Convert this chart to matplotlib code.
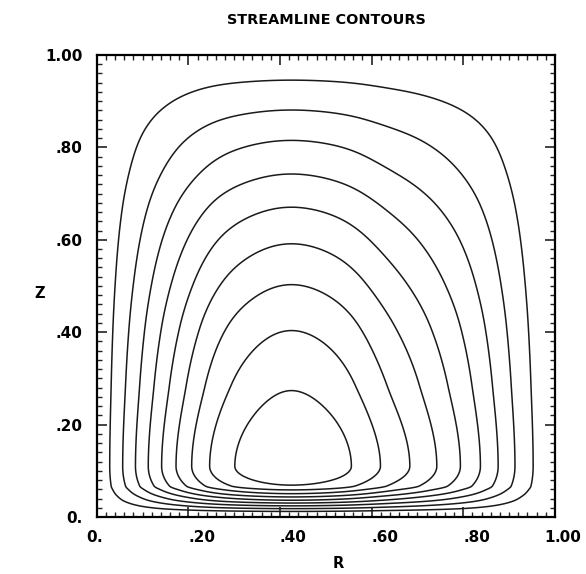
import numpy as np
import matplotlib
matplotlib.use("Agg")
import matplotlib.pyplot as plt
from matplotlib.ticker import MultipleLocator

#-----------datos---------------------------------------#
# niveles de las lineas de corriente (de la exterior a la interior)
levels = [0.1, 0.2, 0.3, 0.4, 0.5, 0.6, 0.7, 0.8, 0.9]
# altura maxima de cada contorno (Z)
z_top = [0.946, 0.882, 0.817, 0.745, 0.674, 0.596, 0.509, 0.412, 0.286]
# altura del fondo plano de cada contorno (Z)
z_bot = [0.012, 0.018, 0.024, 0.030, 0.036, 0.043, 0.050, 0.058, 0.067]
# borde izquierdo y derecho de cada contorno (R)
r_left = [0.0275, 0.058, 0.086, 0.110, 0.140, 0.171, 0.207, 0.240, 0.295]
r_right = [0.947, 0.911, 0.879, 0.838, 0.798, 0.742, 0.687, 0.614, 0.565]
# centro del vortice
r_center = 0.42
z_center = 0.11

xtick_vals = [0.0, 0.2, 0.4, 0.6, 0.8, 1.0]
xtick_labels = ['0.', '.20', '.40', '.60', '.80', '1.00']
ytick_vals = [0.0, 0.2, 0.4, 0.6, 0.8, 1.0]
ytick_labels = ['0.', '.20', '.40', '.60', '.80', '1.00']


#-----------Funciones-------------------#
def pchip(xk, yk, x):
    # interpolacion cubica monotona (Fritsch-Carlson)
    xk = np.asarray(xk, float)
    yk = np.asarray(yk, float)
    h = np.diff(xk)
    delta = np.diff(yk) / h
    d = np.zeros(len(xk))
    for k in range(1, len(xk) - 1):
        if delta[k - 1] * delta[k] > 0:
            w1 = 2 * h[k] + h[k - 1]
            w2 = h[k] + 2 * h[k - 1]
            d[k] = (w1 + w2) / (w1 / delta[k - 1] + w2 / delta[k])
    d[0] = delta[0]
    d[-1] = delta[-1]
    i = np.clip(np.searchsorted(xk, x) - 1, 0, len(xk) - 2)
    t = (x - xk[i]) / h[i]
    h00 = 2 * t**3 - 3 * t**2 + 1
    h10 = t**3 - 2 * t**2 + t
    h01 = -2 * t**3 + 3 * t**2
    h11 = t**3 - t**2
    return h00 * yk[i] + h10 * h[i] * d[i] + h01 * yk[i + 1] + h11 * h[i] * d[i + 1]


def suavizar(y, sigma):
    # suavizado gaussiano con reflexion impar en los bordes (y=0 en la pared)
    n = int(3 * sigma)
    k = np.exp(-0.5 * (np.arange(-n, n + 1) / sigma) ** 2)
    k /= k.sum()
    ypad = np.concatenate((-y[n:0:-1], y, -y[-2:-n - 2:-1]))
    return np.convolve(ypad, k, mode='valid')


#-----------campo de la funcion de corriente-------------#
r_knots = [0.0] + r_left + [r_center] + r_right[::-1] + [1.0]
f_knots = [0.0] + levels + [1.0] + levels[::-1] + [0.0]
z_knots = [0.0] + z_bot + [z_center] + z_top[::-1] + [1.0]
g_knots = [0.0] + levels + [1.0] + levels[::-1] + [0.0]

r = np.linspace(0, 1, 801)
z = np.linspace(0, 1, 801)
F = suavizar(pchip(r_knots, f_knots, r), 30)
G = pchip(z_knots, g_knots, z)
R, Z = np.meshgrid(r, z)
psi = G[:, None] * F[None, :]

#-----------grafica-------------------#
plt.rcParams['font.family'] = 'DejaVu Sans'
plt.rcParams['font.weight'] = 'bold'

fig = plt.figure(figsize=(5.86, 5.74), dpi=100)
ax = fig.add_axes([0.165, 0.0993, 0.782, 0.805])

ax.contour(R, Z, psi, levels=levels, colors='#1a1a1a', linewidths=1.1)

ax.set_xlim(0, 1)
ax.set_ylim(0, 1)
for s in ax.spines.values():
    s.set_linewidth(1.6)

ax.xaxis.set_major_locator(MultipleLocator(0.2))
ax.xaxis.set_minor_locator(MultipleLocator(0.02))
ax.yaxis.set_major_locator(MultipleLocator(0.2))
ax.yaxis.set_minor_locator(MultipleLocator(0.02))
ax.tick_params(which='both', direction='in', top=True, right=True, color='#222')
ax.tick_params(which='major', length=7, width=1.2)
ax.tick_params(which='minor', length=3.5, width=1.0)
ax.set_xticklabels([])
ax.set_yticks(ytick_vals)
ax.set_yticklabels(ytick_labels, fontsize=11, fontweight='bold')
ax.tick_params(axis='y', pad=10)

# etiquetas del eje R con el punto decimal sobre la marca
for v, s in zip(xtick_vals, xtick_labels):
    ent, dec = s.split('.')
    ax.text(v, -0.045, ent, ha='right', va='center', fontsize=11,
            fontweight='bold', transform=ax.get_xaxis_transform())
    ax.text(v, -0.045, '.' + dec, ha='left', va='center', fontsize=11,
            fontweight='bold', transform=ax.get_xaxis_transform())

fig.text(326 / 586, 1 - 20 / 574, 'STREAMLINE CONTOURS', ha='center', va='center',
         fontsize=10.4, fontweight='bold')
fig.text(40 / 586, 1 - 294 / 574, 'Z', ha='center', va='center', fontsize=10.5, fontweight='bold')
fig.text(338 / 586, 1 - 564 / 574, 'R', ha='center', va='center', fontsize=10.5, fontweight='bold')

fig.savefig('out.png', dpi=100)
